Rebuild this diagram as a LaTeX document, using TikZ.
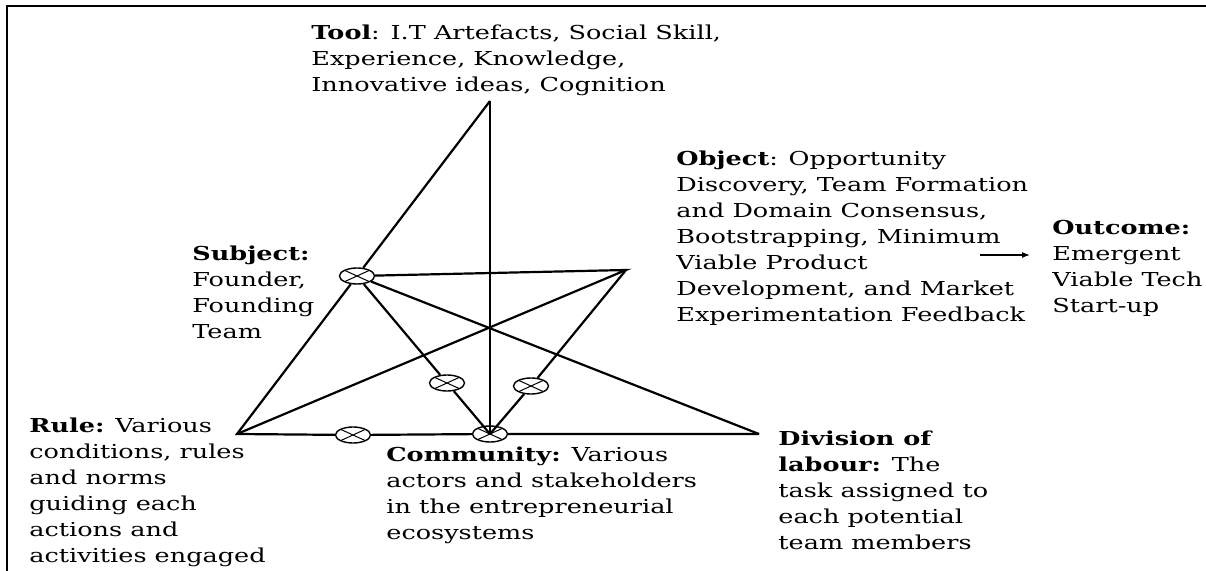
\documentclass[tikz,border=0pt]{standalone}
\usepackage{fontspec}
\setmainfont{DejaVu Serif}[FakeStretch=1.33]
\usetikzlibrary{shapes.geometric, arrows.meta, positioning}

\tikzset{
  lbl/.style={anchor=base west, align=left, inner sep=0pt, font=\fontsize{9.6}{13}\selectfont},
  xmark/.style={draw, ellipse, line width=0.7pt, minimum width=17.5pt, minimum height=8pt, inner sep=0pt,
    path picture={\draw[line width=0.5pt] (path picture bounding box.north west) -- (path picture bounding box.south east)
      (path picture bounding box.south west) -- (path picture bounding box.north east);}},
  side/.style={line width=1.1pt}
}

\begin{document}
\begin{tikzpicture}[x=0.5pt, y=-0.5pt]
  \useasboundingbox (0,0) rectangle (1206,571);
  \draw[line width=1pt] (1210,6) -- (7,6) -- (7,575);
  % corners of the triangle
  \coordinate (T) at (490,101);
  \coordinate (R) at (237,434);
  \coordinate (D) at (759,434);
  \coordinate (O) at (626,270);
  \node[xmark] (S) at (357,276) {};
  \node[xmark] (C) at (490,434) {};
  \node[xmark] (SC) at (447,383) {};
  \node[xmark] (OC) at (531,386) {};
  \node[xmark] (RC) at (353,435) {};
  % lines
  \draw[side] (T) -- (S) -- (R) -- (RC) -- (C) -- (D) -- cycle;
  \draw[side] (T) -- (C.center);
  \draw[side] (S) -- (O) -- (R);
  \draw[side] (S) -- (D);
  \draw[side] (S) -- (SC) -- (C.center);
  \draw[side] (O) -- (OC) -- (C.center);
  % labels (anchored at the baseline of their last line)
  \node[lbl] (tool) at (311,92) {\textbf{Tool}: I.T Artefacts, Social Skill,\\ Experience, Knowledge,\\ Innovative ideas, Cognition};
  \node[lbl] (object) at (676,322) {\textbf{Object}: Opportunity\\ Discovery, Team Formation\\ and Domain Consensus,\\ Bootstrapping, Minimum\\ Viable Product\\ Development, and Market\\ Experimentation Feedback};
  \node[lbl] (outcome) at (1052,313) {\textbf{Outcome:}\\ Emergent\\ Viable Tech\\ Start-up};
  \node[lbl] (subject) at (192,339) {\textbf{Subject:}\\ Founder,\\ Founding\\ Team};
  \node[lbl] (rule) at (29,563) {\textbf{Rule:} Various\\ conditions, rules\\ and norms\\ guiding each\\ actions and\\ activities engaged};
  \node[lbl] (community) at (386,540) {\textbf{Community:} Various\\ actors and stakeholders\\ in the entrepreneurial\\ ecosystems};
  \node[lbl] (division) at (778,550) {\textbf{Division of}\\ \textbf{labour:} The\\ task assigned to\\ each potential\\ team members};
  % outcome arrow
  \coordinate (a1) at (980,255);
  \coordinate (a2) at (1030,255);
  \draw[line width=0.6pt, -{Latex[length=4pt, width=3pt]}] (a1) -- (a2);
\end{tikzpicture}
\end{document}
